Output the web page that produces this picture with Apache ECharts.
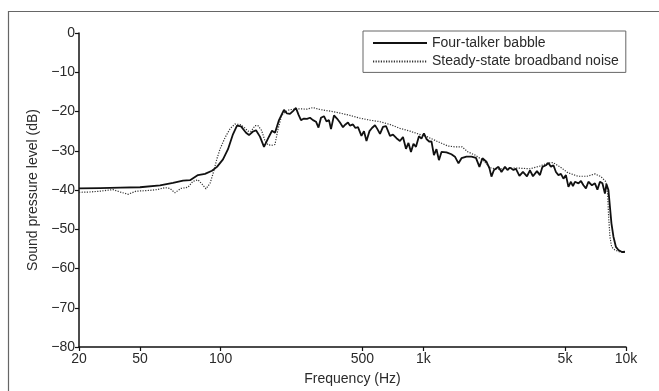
<!DOCTYPE html>
<html>
<head>
<meta charset="utf-8">
<script src="https://cdn.jsdelivr.net/npm/echarts@6/dist/echarts.min.js"></script>
<style>html,body{margin:0;padding:0;background:#fff;overflow:hidden;}#c{width:659px;height:391px;}</style>
</head>
<body>
<div id="c"></div>
<script>
// Frequency (Hz), level (dB) pairs
const babble = [[20,-39.6],[25.4,-39.5],[31.9,-39.4],[40,-39.3],[50.2,-38.8],[58.2,-38.2],[65.2,-37.6],[70.6,-37.5],[77.3,-36.2],[83.7,-35.9],[90.6,-35.1],[95.9,-34.1],[102.7,-32.2],[108.7,-29.6],[115,-25.8],[120.4,-23.6],[126,-23.8],[133.4,-25.4],[138,-26.0],[144.4,-25.1],[149.4,-24.8],[156.3,-26.4],[163.6,-29.0],[171.2,-26.9],[179.2,-24.9],[185.4,-25.4],[194,-22.2],[205.3,-19.6],[212.4,-20.5],[219.8,-20.6],[227.4,-19.9],[235.3,-19.1],[242.1,-20.8],[249.1,-22.2],[257.7,-21.8],[266.7,-21.9],[275.9,-21.6],[285.5,-22.2],[295.4,-22.6],[303.9,-24.1],[312.6,-21.6],[323.4,-21.2],[332.8,-22.5],[342.4,-22.2],[350.3,-24.5],[362.4,-21.0],[374.9,-21.8],[387.9,-22.8],[401.3,-24.0],[412.9,-23.3],[424.8,-22.8],[434.5,-23.6],[449.6,-23.3],[462.5,-24.2],[476,-24.0],[495.2,-26.2],[509.5,-25.0],[524.2,-27.5],[542.4,-25.0],[558,-24.2],[577.4,-23.5],[590.7,-24.3],[611.2,-25.7],[632.4,-23.9],[654.3,-23.7],[684.6,-26.2],[708.4,-25.9],[737.1,-26.8],[766.9,-27.5],[793.6,-26.5],[821,-29.5],[844.7,-28.0],[868.9,-30.3],[894,-28.2],[919.6,-29.0],[951.5,-26.3],[979,-26.9],[1007,-25.6],[1036,-27.0],[1072,-27.7],[1097,-27.6],[1128,-31.1],[1161,-29.6],[1194,-32.4],[1229,-30.3],[1301,-30.4],[1376,-30.9],[1432,-31.5],[1491,-33.2],[1543,-31.9],[1632,-31.5],[1728,-31.5],[1818,-31.8],[1892,-34.1],[1957,-31.9],[2048,-32.8],[2120,-34.5],[2168,-36.6],[2231,-34.9],[2282,-35.4],[2348,-34.1],[2430,-35.4],[2528,-34.1],[2601,-34.9],[2676,-34.3],[2784,-34.9],[2864,-34.6],[2980,-36.4],[3101,-35.4],[3246,-36.5],[3358,-35.0],[3475,-36.5],[3636,-35.2],[3762,-36.2],[3871,-34.1],[4026,-33.7],[4143,-33.1],[4262,-34.1],[4385,-33.7],[4511,-35.4],[4641,-36.2],[4774,-35.9],[4913,-37.1],[5054,-36.2],[5199,-39.2],[5349,-37.9],[5472,-39.0],[5598,-37.9],[5826,-38.3],[5994,-37.7],[6166,-38.8],[6343,-39.6],[6526,-37.9],[6791,-38.8],[7026,-38.3],[7228,-39.9],[7437,-37.9],[7650,-38.3],[7871,-40.9],[8006,-38.5],[8191,-40.0],[8332,-44.3],[8475,-48.5],[8670,-51.9],[8919,-54.5],[9176,-55.3],[9548,-55.8],[9878,-55.8]];
const steady = [[20,-40.6],[22.7,-40.5],[25.4,-40.3],[29.4,-39.9],[31.9,-40.5],[34.9,-41.1],[38.2,-40.3],[44.8,-40.1],[48.5,-39.9],[53.1,-39.4],[56.2,-39.6],[59.5,-40.7],[63.7,-39.6],[69,-39.3],[73,-37.8],[77.3,-37.4],[80.9,-38.5],[84.6,-39.7],[88.6,-38.3],[91.6,-35.9],[95.9,-32.0],[99.2,-29.6],[105,-26.7],[111.2,-24.4],[117.7,-23.2],[124.5,-23.3],[130.3,-24.0],[136.4,-25.0],[141.2,-25.1],[147.7,-23.6],[152.8,-23.6],[159.1,-24.8],[165.5,-27.5],[171.2,-28.5],[179.2,-28.6],[185.4,-28.4],[191.8,-24.5],[199.5,-21.2],[207.6,-20.1],[217.3,-19.6],[237.9,-19.3],[266.7,-19.4],[285.5,-19.0],[309,-19.5],[346.3,-19.9],[387.9,-20.4],[434.5,-21.0],[486.9,-21.7],[545.5,-22.2],[611.2,-22.6],[684.6,-23.3],[766.9,-24.3],[859.1,-25.0],[930,-25.6],[1042,-26.4],[1181,-27.7],[1323,-28.8],[1432,-29.0],[1551,-29.0],[1661,-30.3],[1797,-31.1],[1969,-32.4],[2132,-34.3],[2308,-34.7],[2586,-34.5],[2897,-34.4],[3358,-34.6],[3762,-33.9],[4072,-33.2],[4360,-33.0],[4721,-34.1],[5170,-35.6],[5793,-36.5],[6415,-36.5],[7026,-35.9],[7521,-36.6],[7960,-37.9],[8115,-41.0],[8210,-46.8],[8332,-51.9],[8494,-54.5],[8817,-55.3],[9333,-55.8],[9878,-55.6]];
const seriesNames = ['Four-talker babble', 'Steady-state broadband noise'];
const xTickHz = [20, 40, 100, 500, 1000, 5000, 10000];
const xTickLabels = ['20', '50', '100', '500', '1k', '5k', '10k'];

const FONT = 'Liberation Sans';
const TXT = '#2a2a2a';
const toLog = arr => arr.map(p => [Math.log10(p[0]), p[1]]);
const tickPos = xTickHz.map(f => Math.log10(f));

const chart = echarts.init(document.getElementById('c'), null, {renderer: 'canvas'});
chart.setOption({
  animation: false,
  backgroundColor: '#fff',
  graphic: [{
    type: 'polyline', silent: true, z: 0,
    shape: {points: [[8.5, 420], [8.5, 11.5], [720, 11.5]]},
    style: {fill: null, stroke: '#666', lineWidth: 1.2}
  }],
  grid: {left: 79, right: 33, top: 33, bottom: 44, containLabel: false, outerBoundsMode: 'none'},
  legend: {
    orient: 'vertical', left: 363, top: 31,
    itemWidth: 54, itemHeight: 14, itemGap: 4.4,
    padding: [5, 7, 4, 9],
    borderColor: '#666', borderWidth: 1, backgroundColor: '#fff',
    itemStyle: {opacity: 0},
    textStyle: {fontFamily: FONT, fontSize: 14, color: TXT},
    data: seriesNames
  },
  xAxis: {
    type: 'value', min: Math.log10(20), max: 4, position: 'bottom',
    name: 'Frequency (Hz)', nameLocation: 'middle', nameGap: 25,
    nameTextStyle: {fontFamily: FONT, fontSize: 14, color: TXT},
    axisLine: {show: true, onZero: false, lineStyle: {color: '#111', width: 1.5}},
    axisTick: {show: true, length: 4, customValues: tickPos, lineStyle: {color: '#111', width: 1.2}},
    axisLabel: {
      customValues: tickPos, margin: 5,
      fontFamily: FONT, fontSize: 14, color: TXT,
      formatter: v => {
        let best = 0, d = Infinity;
        tickPos.forEach((t, i) => { if (Math.abs(t - v) < d) { d = Math.abs(t - v); best = i; } });
        return xTickLabels[best];
      }
    },
    splitLine: {show: false}
  },
  yAxis: {
    type: 'value', min: -80, max: 0, interval: 10, position: 'left',
    name: 'Sound pressure level (dB)', nameLocation: 'middle', nameGap: 34,
    nameTextStyle: {fontFamily: FONT, fontSize: 14, color: TXT},
    axisLine: {show: true, onZero: false, lineStyle: {color: '#111', width: 1.5}},
    axisTick: {show: true, length: 4, lineStyle: {color: '#111', width: 1.2}},
    axisLabel: {
      margin: 4, fontFamily: FONT, fontSize: 14, color: TXT,
      formatter: v => v < 0 ? '\u2212' + Math.abs(v) : String(v)
    },
    splitLine: {show: false}
  },
  series: [
    {
      name: seriesNames[0], type: 'line', data: toLog(babble),
      symbol: 'none', showSymbol: false, z: 3,
      lineStyle: {color: '#111', width: 1.8},
      itemStyle: {color: '#111'}
    },
    {
      name: seriesNames[1], type: 'line', data: toLog(steady),
      symbol: 'none', showSymbol: false, z: 2,
      lineStyle: {color: '#333', width: 1.2, type: [1.2, 1.4]},
      itemStyle: {color: '#333'}
    }
  ]
});
</script>
</body>
</html>
